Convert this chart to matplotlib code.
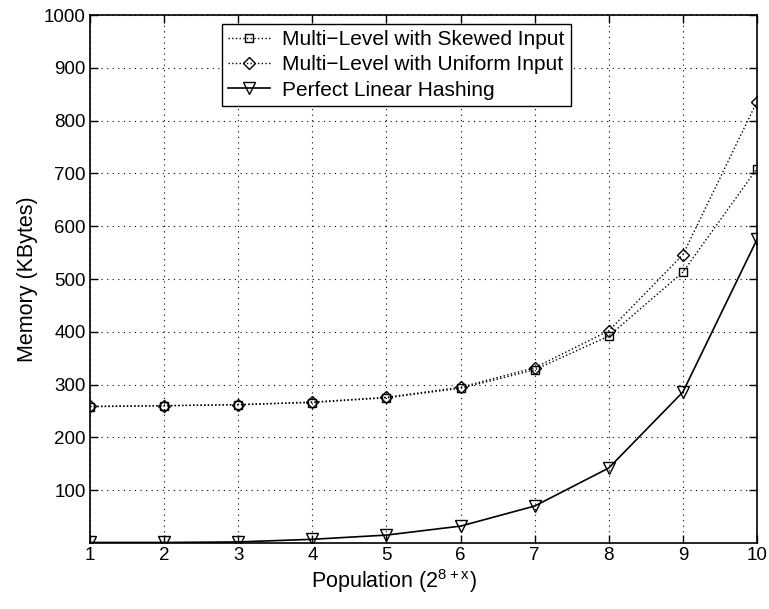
import matplotlib
matplotlib.use("Agg")
import matplotlib.pyplot as plt

x = [1, 2, 3, 4, 5, 6, 7, 8, 9, 10]
skewed = [258, 260, 262, 266, 275, 293, 328, 392, 513, 709]
uniform = [259, 260, 262, 267, 276, 295, 332, 402, 546, 836]
perfect = [1, 1, 2, 7, 15, 32, 70, 142, 286, 575]
labels = ["Multi\u2212Level with Skewed Input", "Multi\u2212Level with Uniform Input", "Perfect Linear Hashing"]
yticks = [100, 200, 300, 400, 500, 600, 700, 800, 900, 1000]

plt.rcParams['font.family'] = ['Liberation Sans', 'DejaVu Sans']
plt.rcParams['mathtext.fontset'] = 'custom'
plt.rcParams['mathtext.rm'] = 'Liberation Sans'

fig = plt.figure(figsize=(7.69, 6.09), dpi=100)
ax = fig.add_axes([90/769, 1-543/609, (757-90)/769, (543-15)/609])

ax.plot(x, skewed, color='black', linestyle=':', linewidth=1.0, marker='s', markersize=6,
        markerfacecolor='none', markeredgewidth=1.0, label=labels[0])
ax.plot(x, uniform, color='black', linestyle=':', linewidth=1.0, marker='D', markersize=6,
        markerfacecolor='none', markeredgewidth=1.0, label=labels[1])
ax.plot(x, perfect, color='black', linestyle='-', linewidth=1.2, marker='v', markersize=8,
        markerfacecolor='none', markeredgewidth=1.0, label=labels[2])

ax.set_xlim(1, 10)
ax.set_ylim(0, 1000)
ax.set_xticks(x)
ax.set_yticks(yticks)
ax.tick_params(direction='in', labelsize=13.5, length=6, width=1, top=True, right=True, pad=3)
ax.grid(True, color='black', linestyle=(0, (1, 4)), linewidth=0.8)
for s in ax.spines.values():
    s.set_linewidth(1.2)

ax.set_xlabel(r"Population (2$^{\mathrm{8+x}}$)", fontsize=15.5)
ax.xaxis.set_label_coords(0.455, -0.045)
ax.set_ylabel("Memory (KBytes)", fontsize=15.5)

leg = ax.legend(loc='upper left', bbox_to_anchor=(0.198, 0.983), fontsize=15, frameon=True,
                fancybox=False, edgecolor='black', framealpha=1, borderpad=0.3,
                labelspacing=0.3, handlelength=2.0, handletextpad=0.6, borderaxespad=0)
leg.get_frame().set_linewidth(1.0)

fig.savefig("out.png", dpi=100)
